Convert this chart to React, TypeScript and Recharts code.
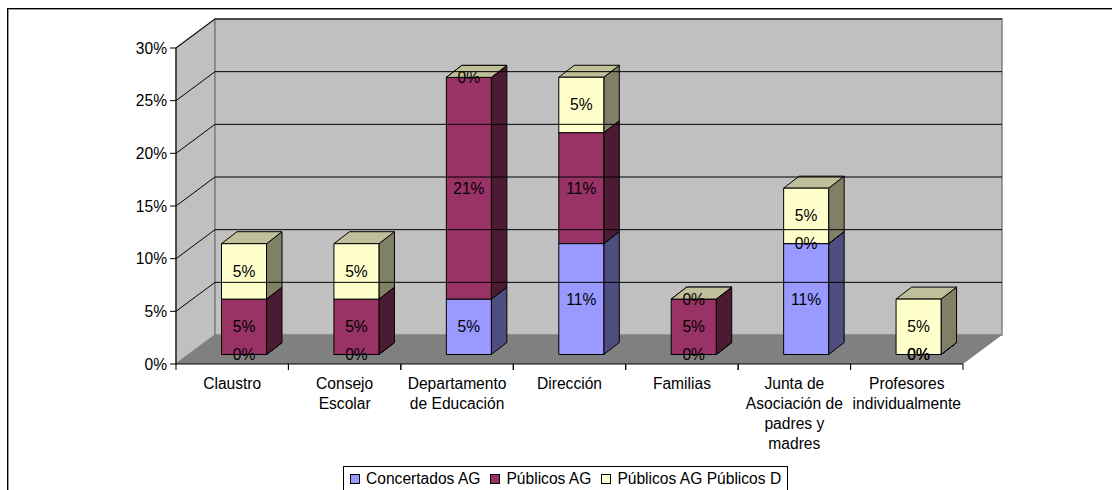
import { Bar, BarChart, LabelList, Legend, ReferenceArea, ReferenceLine, XAxis, YAxis } from "recharts";

const categories = [
  "Claustro",
  "Consejo Escolar",
  "Departamento de Educación",
  "Dirección",
  "Familias",
  "Junta de Asociación de padres y madres",
  "Profesores individualmente",
];
const tickLines = [
  ["Claustro"],
  ["Consejo", "Escolar"],
  ["Departamento", "de Educación"],
  ["Dirección"],
  ["Familias"],
  ["Junta de", "Asociación de", "padres y", "madres"],
  ["Profesores", "individualmente"],
];
const concertados = [0, 0, 5.26, 10.53, 0, 10.53, 0];
const publicos = [5.26, 5.26, 21.05, 10.53, 5.26, 0, 0];
const publicosD = [5.26, 5.26, 0, 5.26, 0, 5.26, 5.26];
const yTicks = [0, 5, 10, 15, 20, 25, 30];

const data = categories.map((name, i) => ({
  name,
  concertados: concertados[i],
  publicos: publicos[i],
  publicosD: publicosD[i],
}));

const FONT = "'Liberation Sans', Arial, sans-serif";
const DEPTH_X = 39;
const DEPTH_Y = 29;
// bars sit part way into the floor
const SHIFT_X = 11.5;
const SHIFT_Y = 9.5;
const BOX_X = 15.5;
const BOX_Y = 12;

function Box3D(props: any) {
  const { x, y, width, height, faces } = props;
  const l = x + SHIFT_X;
  const r = l + width;
  const t = y - SHIFT_Y;
  const b = t + height;
  const edge = { stroke: "#000", strokeWidth: 1, strokeLinejoin: "round" as const };
  return (
    <g>
      <polygon points={`${r},${b} ${r + BOX_X},${b - BOX_Y} ${r + BOX_X},${t - BOX_Y} ${r},${t}`} fill={faces[1]} {...edge} />
      <polygon points={`${l},${t} ${l + BOX_X},${t - BOX_Y} ${r + BOX_X},${t - BOX_Y} ${r},${t}`} fill={faces[2]} {...edge} />
      <rect x={l} y={t} width={width} height={height} fill={faces[0]} {...edge} />
    </g>
  );
}

function BoxLabel(props: any) {
  const { x, y, width, height, value } = props;
  return (
    <text
      x={x + SHIFT_X + width / 2}
      y={y - SHIFT_Y + height / 2}
      textAnchor="middle"
      dominantBaseline="central"
      fontSize={15.6}
      fontFamily={FONT}
      fill="#000"
    >
      {`${Math.round(value)}%`}
    </text>
  );
}

function Walls(props: any) {
  const { x, y, width, height } = props;
  const b = y + height;
  const wall = { stroke: "#808080", strokeWidth: 1.5 };
  return (
    <g>
      <polygon points={`${x},${b} ${x + DEPTH_X},${b - DEPTH_Y} ${x + DEPTH_X},${y - DEPTH_Y} ${x},${y}`} fill="#c0c0c0" {...wall} />
      <rect x={x + DEPTH_X} y={y - DEPTH_Y} width={width} height={height} fill="#c0c0c0" {...wall} />
      <polygon points={`${x},${b} ${x + DEPTH_X},${b - DEPTH_Y} ${x + width + DEPTH_X},${b - DEPTH_Y} ${x + width},${b}`} fill="#808080" />
    </g>
  );
}

function DepthLine(props: any) {
  const { x1, x2, y1 } = props;
  const bx = x1 + DEPTH_X;
  const by = y1 - DEPTH_Y;
  return (
    <polyline points={`${x1},${y1} ${bx},${by} ${x2 + DEPTH_X},${by}`} fill="none" stroke="#000" strokeWidth={1} />
  );
}

function CategoryTick(props: any) {
  const { x, y, index } = props;
  const step = 787 / categories.length;
  const lines = tickLines[index];
  return (
    <g>
      <line x1={x - step / 2} x2={x - step / 2} y1={y - 8} y2={y - 2} stroke="#000" />
      <line x1={x + step / 2} x2={x + step / 2} y1={y - 8} y2={y - 2} stroke="#000" />
      <text x={x} textAnchor="middle" fontSize={15.6} fontFamily={FONT} fill="#000">
        {lines.map((line, i) => (
          <tspan key={line} x={x} y={y + 17 + i * 20}>
            {line}
          </tspan>
        ))}
      </text>
    </g>
  );
}

function LegendBox({ payload }: any) {
  return (
    <div
      style={{
        display: "flex",
        boxSizing: "border-box",
        width: 445,
        height: 24,
        alignItems: "center",
        border: "1px solid #000",
        borderBottom: "none",
        paddingLeft: 6,
        fontFamily: FONT,
        fontSize: 15.6,
        whiteSpace: "nowrap",
        background: "#fff",
      }}
    >
      {(payload || []).map((item: any) => (
        <span key={item.value} style={{ display: "flex", alignItems: "center", marginRight: 10 }}>
          <span style={{ width: 8, height: 8, marginRight: 6, border: "1px solid #000", background: item.color }} />
          {item.value}
        </span>
      ))}
    </div>
  );
}

export default function App() {
  return (
    <div style={{ position: "absolute", left: 0, top: 0, width: 1112, height: 490, background: "#fff", overflow: "hidden" }}>
      <div style={{ position: "absolute", left: 7, top: 8, width: 1105, height: 1, background: "#000" }} />
      <div style={{ position: "absolute", left: 8, top: 9, width: 1104, height: 1, background: "#999" }} />
      <div style={{ position: "absolute", left: 7, top: 8, width: 1, height: 482, background: "#000" }} />
      <div style={{ position: "absolute", left: 8, top: 9, width: 1, height: 481, background: "#999" }} />
      <BarChart
        width={1112}
        height={490}
        data={data}
        barSize={45}
        margin={{ top: 48, right: 149, bottom: 42, left: 116 }}
        style={{ position: "absolute", left: 0, top: 0 }}
      >
        <XAxis dataKey="name" interval={0} tickLine={false} axisLine={{ stroke: "#000" }} height={60} tick={<CategoryTick />} />
        <YAxis
          width={60}
          domain={[0, 30]}
          ticks={yTicks}
          tickFormatter={(v: number) => `${v}%`}
          tick={{ fontSize: 15.6, fontFamily: FONT, fill: "#000" }}
          tickLine={{ stroke: "#000" }}
          tickSize={6}
          tickMargin={3}
          axisLine={{ stroke: "#000" }}
        />
        <ReferenceArea y1={0} y2={30} ifOverflow="visible" shape={<Walls />} />
        {yTicks.slice(1).map((t) => (
          <ReferenceLine key={t} y={t} ifOverflow="visible" shape={<DepthLine />} />
        ))}
        <Bar dataKey="concertados" name="Concertados AG" stackId="a" fill="#9999ff" isAnimationActive={false} shape={<Box3D faces={["#9999ff", "#4d4d80", "#7373bf"]} />}>
          <LabelList dataKey="concertados" content={<BoxLabel />} />
        </Bar>
        <Bar dataKey="publicos" name="Públicos AG" stackId="a" fill="#993366" isAnimationActive={false} shape={<Box3D faces={["#993366", "#4d1a33", "#73264d"]} />}>
          <LabelList dataKey="publicos" content={<BoxLabel />} />
        </Bar>
        <Bar dataKey="publicosD" name="Públicos AG Públicos D" stackId="a" fill="#ffffcc" isAnimationActive={false} shape={<Box3D faces={["#ffffcc", "#808066", "#bfbf99"]} />}>
          <LabelList dataKey="publicosD" content={<BoxLabel />} />
        </Bar>
        <Legend content={<LegendBox />} wrapperStyle={{ left: 343, top: 466, width: 445, bottom: "auto", right: "auto" }} />
      </BarChart>
    </div>
  );
}
